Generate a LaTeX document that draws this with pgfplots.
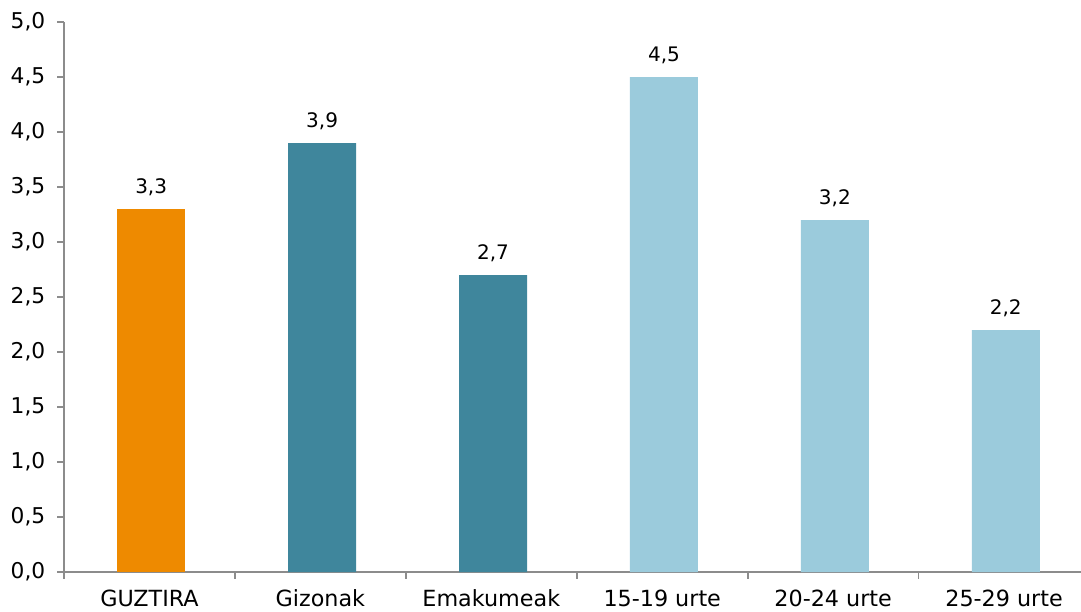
\documentclass[border=0pt]{standalone}
\usepackage{pgfplots}
\pgfplotsset{compat=1.18}
\usepackage{fontspec}
\setmainfont{DejaVu Sans}
\definecolor{cOrange}{HTML}{EE8A00}
\definecolor{cTeal}{HTML}{3F869C}
\definecolor{cLight}{HTML}{9BCBDC}
\definecolor{cAxis}{HTML}{8C8C8C}
\begin{document}
\begin{tikzpicture}
\begin{axis}[
  name=ax,
  scale only axis,
  width=762.75pt, height=412.5pt,
  xmin=-0.5, xmax=5.45,
  ymin=0, ymax=5,
  axis x line*=bottom, axis y line*=left,
  axis line style={cAxis, line width=1.2pt},
  xtick={0,...,5},
  xticklabels={GUZTIRA,Gizonak,Emakumeak,15-19 urte,20-24 urte,25-29 urte},
  major x tick style={draw=none},
  minor xtick={-0.5,0.5,1.5,2.5,3.5,4.5},
  minor tick length=5pt,
  minor x tick style={cAxis, line width=1.2pt},
  ytick={0,0.5,...,5},
  major tick length=5pt,
  y tick style={cAxis, line width=1.2pt},
  tick align=outside,
  /pgf/number format/.cd, fixed, fixed zerofill, precision=1, use comma, assume math mode=true,
  /pgfplots/.cd,
  yticklabel style={font=\fontsize{16.3}{19}\selectfont, xshift=-5.5pt},
  xticklabel style={font=\fontsize{16.7}{19}\selectfont, inner sep=0pt,
    text height=12.5pt, text depth=0pt, yshift=-8.5pt},
  ybar, bar width=51pt, bar shift=0pt,
  nodes near coords,
  every node near coord/.append style={font=\fontsize{15}{17}\selectfont, black, yshift=6.5pt},
  clip=false,
]
\addplot[draw=none, fill=cOrange] coordinates {(0.01,3.3)};
\addplot[draw=none, fill=cTeal] coordinates {(1.01,3.9) (2.01,2.7)};
\addplot[draw=none, fill=cLight] coordinates {(3.01,4.5) (4.01,3.2) (5.01,2.2)};
\end{axis}
\pgfresetboundingbox
\path ([xshift=-48pt,yshift=-29.25pt]ax.south west) rectangle ([yshift=16.5pt]ax.north east);
\end{tikzpicture}
\end{document}
